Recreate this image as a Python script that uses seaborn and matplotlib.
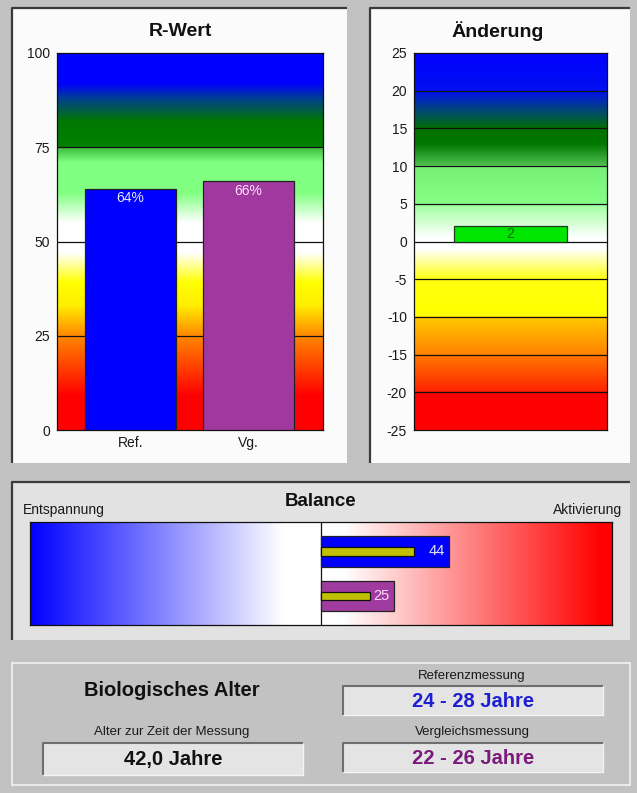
import numpy as np
import matplotlib
matplotlib.use('Agg')
import matplotlib.pyplot as plt
from matplotlib.colors import LinearSegmentedColormap
from matplotlib.patches import Rectangle
import seaborn as sns

# --- data ---
rwert_labels = ['Ref.', 'Vg.']
rwert_values = [64, 66]
rwert_texts = ['64%', '66%']
rwert_ticks = [0, 25, 50, 75, 100]

aend_labels = ['Vg.']
aend_values = [2]
aend_ticks = [-25, -20, -15, -10, -5, 0, 5, 10, 15, 20, 25]

balance_labels = ['Ref.', 'Vg.']
balance_values = [44, 25]
balance_inner = [32, 17]

alter_messung = '42,0 Jahre'
alter_ref = '24 - 28 Jahre'
alter_vg = '22 - 26 Jahre'

W, H = 637, 793
plt.rcParams['font.family'] = ['Liberation Sans', 'DejaVu Sans']
plt.rcParams['axes.unicode_minus'] = False


def px_axes(fig, x0, y0, x1, y1):
    """axes from pixel box (top-left origin)"""
    return fig.add_axes([x0 / W, 1 - y1 / H, (x1 - x0) / W, (y1 - y0) / H])


def gradient(ax, stops, lo, hi, extent, horizontal=False):
    pos = [(v - lo) / (hi - lo) for v, c in stops]
    cmap = LinearSegmentedColormap.from_list('g', list(zip(pos, [c for v, c in stops])), N=1024)
    ramp = np.linspace(0, 1, 600)
    img = ramp[None, :] if horizontal else ramp[:, None]
    ax.imshow(img, cmap=cmap, aspect='auto', extent=extent, origin='lower',
              zorder=0, interpolation='bilinear')


def style_frame(ax):
    for s in ax.spines.values():
        s.set_color('#111111')
        s.set_linewidth(0.9)
    ax.tick_params(length=0, labelsize=10, pad=5, colors='#1a1a1a')
    ax.set(xlabel='', ylabel='')


fig = plt.figure(figsize=(W / 100, H / 100), dpi=100, facecolor='#c2c2c2')

# background layer with the panels
bg = fig.add_axes([0, 0, 1, 1], zorder=-1)
bg.set_xlim(0, W)
bg.set_ylim(H, 0)
bg.axis('off')


def panel(x0, y0, x1, y1, face):
    bg.add_patch(Rectangle((x0, y0), x1 - x0, y1 - y0, facecolor=face, edgecolor='none'))
    bg.plot([x0, x0, x1], [y1, y0, y0], color='#3a3a3a', lw=1.6, solid_capstyle='butt')


def textbox(x0, y0, x1, y1, text, color):
    bg.add_patch(Rectangle((x0, y0), x1 - x0, y1 - y0, facecolor='#e4e4e4', edgecolor='none'))
    bg.plot([x0, x0, x1], [y1, y0, y0], color='#6e6e6e', lw=1.5, solid_capstyle='butt')
    bg.plot([x0, x1, x1], [y1, y1, y0], color='#f4f4f4', lw=1.0, solid_capstyle='butt')
    bg.text((x0 + x1) / 2, (y0 + y1) / 2 + 1, text, ha='center', va='center',
            fontsize=14.5, fontweight='bold', color=color)


panel(12, 8, 347, 463, '#fbfbfb')
panel(370, 8, 630, 463, '#fbfbfb')
panel(12, 482, 630, 640, '#e2e2e2')
bg.add_patch(Rectangle((12, 663), 618, 122, facecolor='none', edgecolor='#f2f2f2', lw=1.2))

# --- R-Wert ---
ax1 = px_axes(fig, 57, 53, 323, 430)
xl1 = (-0.623, 1.631)
gradient(ax1, [(0, '#ff0000'), (9, '#ff0000'), (25, '#ff8800'), (33, '#ffee00'),
               (39, '#ffff00'), (47, '#ffffff'), (55, '#ffffff'), (63, '#80ff80'),
               (71, '#80ff80'), (74.8, '#40c040'), (75.2, '#008000'), (82, '#007800'),
               (88, '#004090'), (92, '#0000ff'), (100, '#0000ff')],
         0, 100, (xl1[0], xl1[1], 0, 100))
for t in [25, 50, 75]:
    ax1.axhline(t, color='#111111', lw=0.9, zorder=1)
sns.barplot(x=rwert_labels, y=rwert_values, hue=rwert_labels,
            palette=['#0000ff', '#a038a0'], saturation=1, width=0.77, edgecolor='#222222',
            linewidth=0.9, legend=False, zorder=3, ax=ax1)
for i, (v, s, c) in enumerate(zip(rwert_values, rwert_texts, ['#e6e6ff', '#ffe0ff'])):
    ax1.annotate(s, (i, v), xytext=(0, -2), textcoords='offset points',
                 ha='center', va='top', fontsize=10, color=c, zorder=4)
ax1.set_xlim(*xl1)
ax1.set_ylim(0, 100)
ax1.set_yticks(rwert_ticks)
style_frame(ax1)
ax1.tick_params(axis='x', pad=4)
bg.text(180, 31, 'R-Wert', ha='center', va='center', fontsize=14, fontweight='bold', color='#111111')

# --- Änderung ---
ax2 = px_axes(fig, 414, 53, 607, 430)
gradient(ax2, [(-25, '#ff0000'), (-20.1, '#ff0000'), (-19.9, '#ff2400'), (-15.1, '#ff7800'),
               (-14.9, '#ff8400'), (-10.1, '#ffc800'), (-9.9, '#ffff00'), (-5, '#ffff10'),
               (-1, '#ffffff'), (0.5, '#ffffff'), (4.9, '#a0ffa0'), (5.1, '#84ff84'),
               (9.9, '#78f078'), (10.1, '#50c050'), (13, '#007800'), (15, '#007000'),
               (17, '#005060'), (20, '#0010f0'), (25, '#0000ff')],
         -25, 25, (-0.5, 0.5, -25, 25))
for t in aend_ticks[1:-1]:
    ax2.axhline(t, color='#111111', lw=0.9, zorder=1)
sns.barplot(x=aend_labels, y=aend_values, color='#00e600', saturation=1, width=0.585,
            edgecolor='#1a3a1a', linewidth=0.9, zorder=3, ax=ax2)
for i, v in enumerate(aend_values):
    ax2.annotate(str(v), (i, v / 2), ha='center', va='center', fontsize=10,
                 color='#0a6a0a', zorder=4)
ax2.set_xlim(-0.5, 0.5)
ax2.set_ylim(-25, 25)
ax2.set_yticks(aend_ticks)
ax2.set_xticks([])
style_frame(ax2)
bg.text(498, 31, 'Änderung', ha='center', va='center', fontsize=14, fontweight='bold', color='#111111')

# --- Balance ---
ax3 = px_axes(fig, 30, 522, 612, 625)
gradient(ax3, [(-100, '#0000ff'), (-13, '#ffffff'), (8, '#ffffff'), (97, '#ff0000'),
               (100, '#ff0000')], -100, 100, (-100, 100, 1.65, -0.66), horizontal=True)
ax3.axvline(0, color='#111111', lw=0.9, zorder=1)
sns.barplot(x=balance_values, y=balance_labels, hue=balance_labels, orient='h',
            palette=['#0000ff', '#a03ca0'], saturation=1, width=0.69, edgecolor='#222222',
            linewidth=0.9, legend=False, zorder=3, ax=ax3)
sns.barplot(x=balance_inner, y=balance_labels, orient='h', color='#c0c000', saturation=1,
            width=0.2, edgecolor='#111111', linewidth=0.9, zorder=4, ax=ax3)
for i, (v, c) in enumerate(zip(balance_values, ['#e0e4ff', '#ffd8ff'])):
    ax3.annotate(str(v), (v, i), xytext=(-3, 0), textcoords='offset points',
                 ha='right', va='center', fontsize=10.5, color=c, zorder=5)
ax3.set_xlim(-100, 100)
ax3.set_ylim(1.65, -0.66)
ax3.set_xticks([])
ax3.set_yticks([])
style_frame(ax3)
bg.text(321, 502, 'Balance', ha='center', va='center', fontsize=13.5, fontweight='bold', color='#111111')
bg.text(23, 510, 'Entspannung', ha='left', va='center', fontsize=10, color='#1a1a1a')
bg.text(622, 510, 'Aktivierung', ha='right', va='center', fontsize=10, color='#1a1a1a')

# --- Biologisches Alter ---
bg.text(172, 690, 'Biologisches Alter', ha='center', va='center', fontsize=14.5,
        fontweight='bold', color='#111111')
bg.text(172, 732, 'Alter zur Zeit der Messung', ha='center', va='center', fontsize=9.5, color='#1a1a1a')
textbox(43, 743, 303, 775, alter_messung, '#111111')
bg.text(472, 676, 'Referenzmessung', ha='center', va='center', fontsize=9.5, color='#1a1a1a')
textbox(343, 686, 603, 715, alter_ref, '#1e1ed2')
bg.text(472, 732, 'Vergleichsmessung', ha='center', va='center', fontsize=9.5, color='#1a1a1a')
textbox(343, 743, 603, 772, alter_vg, '#7a1a7a')

fig.savefig('out.png', dpi=100, facecolor=fig.get_facecolor())
